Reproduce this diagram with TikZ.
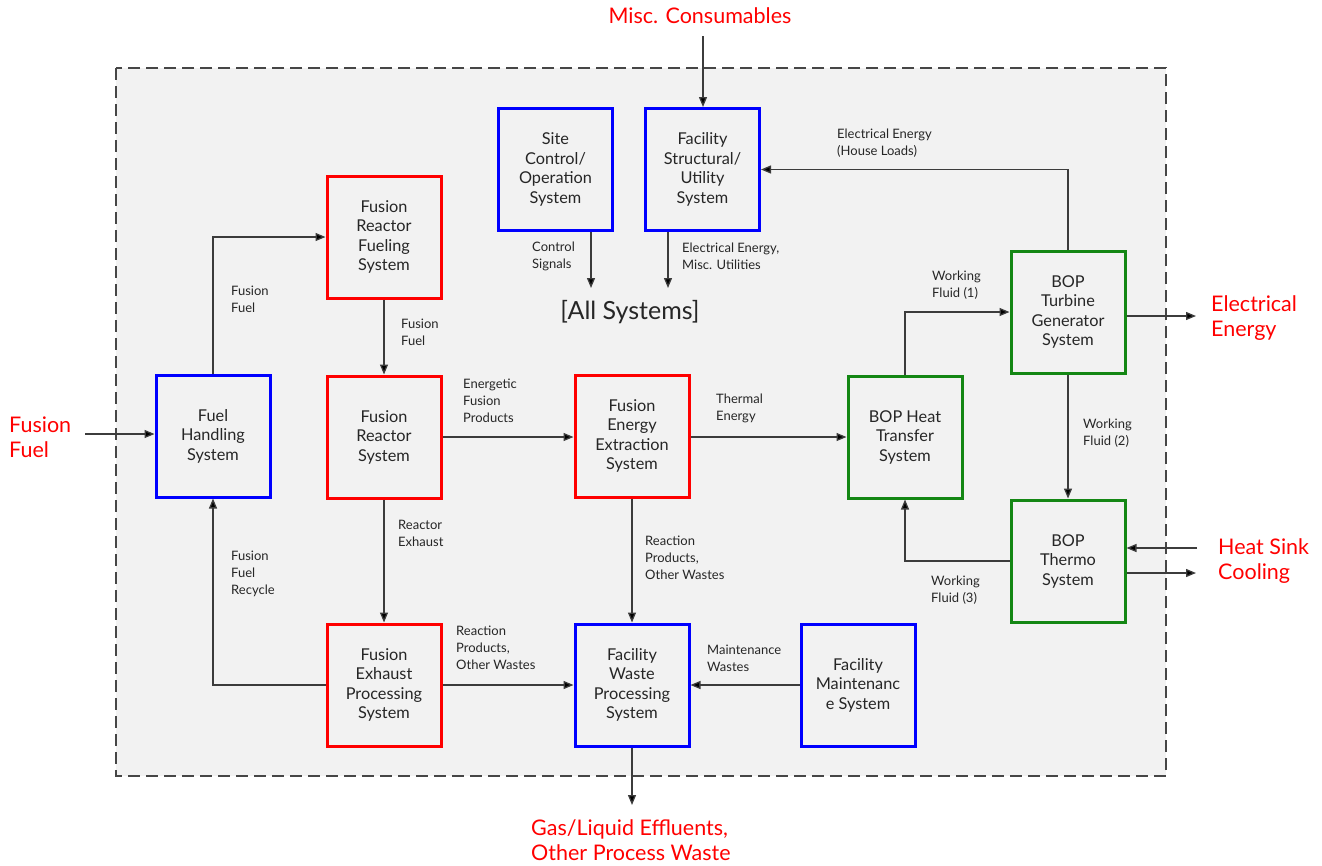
\documentclass[tikz,border=0pt]{standalone}
\usepackage{fontspec}
\setmainfont{Lato}
\usetikzlibrary{arrows.meta,positioning,calc}
\definecolor{panel}{RGB}{242,242,242}
\definecolor{rbox}{RGB}{255,0,0}
\definecolor{bbox}{RGB}{0,0,255}
\definecolor{gbox}{RGB}{20,135,20}
\definecolor{wire}{RGB}{60,60,60}
\definecolor{frame}{RGB}{70,70,70}
\tikzset{
  sysbox/.style={draw, fill=panel, line width=3pt, minimum width=114pt, minimum height=122pt,
    align=center, inner sep=2pt, font=\fontsize{16.3}{19.5}\selectfont, text=black!85},
  redsys/.style={sysbox, draw=rbox},
  bluesys/.style={sysbox, draw=bbox},
  greensys/.style={sysbox, draw=gbox},
  flow/.style={draw=wire, line width=1.3pt, -{Triangle[length=10pt,width=8pt,fill=black]}},
  flowlbl/.style={anchor=west, align=left, inner sep=0pt, font=\fontsize{13}{17}\selectfont, text=black!85},
  extlbl/.style={anchor=west, align=left, inner sep=0pt, font=\fontsize{21.5}{25}\selectfont, text=rbox},
}
\begin{document}
\begin{tikzpicture}[x=1pt,y=-1pt]
\useasboundingbox (0,0) rectangle (1322,865);

% facility boundary
\path[fill=panel] (116,68) rectangle (1166,776);
\draw[frame, line width=1.8pt, dash pattern=on 12pt off 6pt] (116,68) rectangle (1166,776);

% subsystems
\node[bluesys]  (site)  at (555.5,169.5) {Site\\Control/\\Operation\\System};
\node[bluesys]  (fsu)   at (702.5,169.5) {Facility\\Structural/\\Utility\\System};
\node[redsys]   (fuelsys) at (384,237)   {Fusion\\Reactor\\Fueling\\System};
\node[bluesys]  (fh)    at (213,436)     {Fuel\\Handling\\System};
\node[redsys]   (reac)  at (384,437)     {Fusion\\Reactor\\System};
\node[redsys]   (extr)  at (632,436)     {Fusion\\Energy\\Extraction\\System};
\node[greensys] (hx)    at (905,437)     {BOP Heat\\Transfer\\System};
\node[greensys] (turb)  at (1068,312)    {BOP\\Turbine\\Generator\\System};
\node[greensys] (thermo) at (1068,561)   {BOP\\Thermo\\System};
\node[redsys]   (exh)   at (384,685)     {Fusion\\Exhaust\\Processing\\System};
\node[bluesys]  (waste) at (632,685)     {Facility\\Waste\\Processing\\System};
\node[bluesys]  (maint) at (858,685)     {Facility\\Maintenanc\\e System};

% common destination
\node[font=\fontsize{25}{29}\selectfont, text=black!85, inner sep=0pt] (all) at (630,312) {[All Systems]};

% external inputs and outputs
\node[extlbl] (ffuel) at (9,437) {Fusion\\Fuel};
\node[extlbl] (elec) at (1211,318) {Electrical\\Energy};
\node[extlbl] (sink) at (1218,561) {Heat Sink\\Cooling};
\node[extlbl, anchor=center] (misc) at (700,16) {Misc. Consumables};
\node[extlbl] (effl) at (531,840) {Gas/Liquid Effluents,\\Other Process Waste};

% free ends of the open connectors
\coordinate (ffin) at (85,434);
\coordinate (miscin) at (703,36);
\coordinate (csend) at (591,288);
\coordinate (euend) at (668,288);
\coordinate (elout) at (1196,316);
\coordinate (sinkin) at (1197,548);
\coordinate (sinkout) at (1196,573);
\coordinate (efout) at (632,805);

% connectors
\draw[flow] (ffin) -- (ffin -| fh.west);
\draw[flow] (fh.north) |- (fuelsys.west);
\draw[flow] (fuelsys.south) -- (reac.north);
\draw[flow] (reac.east) -- (extr.west |- reac.east);
\draw[flow] (extr.east |- hx.west) -- (hx.west);
\draw[flow] (hx.north) |- (turb.west);
\draw[flow] (turb.north) |- (fsu.east);
\draw[flow] (turb.east |- elout) -- (elout);
\draw[flow] (turb.south) -- (thermo.north);
\draw[flow] (thermo.west) -| (hx.south);
\draw[flow] (sinkin) -- (sinkin -| thermo.east);
\draw[flow] (thermo.east |- sinkout) -- (sinkout);
\draw[flow] (miscin) -- (miscin |- fsu.north);
\draw[flow] (site.south -| csend) -- (csend);
\draw[flow] (fsu.south -| euend) -- (euend);
\draw[flow] (reac.south) -- (exh.north);
\draw[flow] (exh.west) -| (fh.south);
\draw[flow] (exh.east) -- (waste.west);
\draw[flow] (extr.south) -- (waste.north);
\draw[flow] (maint.west) -- (waste.east);
\draw[flow] (waste.south) -- (efout);

% flow labels
\node[flowlbl] (l1) at (231,299) {Fusion\\Fuel};
\node[flowlbl] (l2) at (401,332) {Fusion\\Fuel};
\node[flowlbl] (l3) at (463,401) {Energetic\\Fusion\\Products};
\node[flowlbl] (l4) at (716,408) {Thermal\\Energy};
\node[flowlbl] (l5) at (932,285) {Working\\Fluid (1)};
\node[flowlbl] (l6) at (837,143) {Electrical Energy\\(House Loads)};
\node[flowlbl] (l7) at (532,256) {Control\\Signals};
\node[flowlbl] (l8) at (682,256) {Electrical Energy,\\Misc. Utilities};
\node[flowlbl] (l9) at (398,533) {Reactor\\Exhaust};
\node[flowlbl] (l10) at (231,574) {Fusion\\Fuel\\Recycle};
\node[flowlbl] (l11) at (456,648) {Reaction\\Products,\\Other Wastes};
\node[flowlbl] (l12) at (645,558) {Reaction\\Products,\\Other Wastes};
\node[flowlbl] (l13) at (707,658) {Maintenance\\Wastes};
\node[flowlbl] (l14) at (1083,433) {Working\\Fluid (2)};
\node[flowlbl] (l15) at (931,590) {Working\\Fluid (3)};
\end{tikzpicture}
\end{document}
